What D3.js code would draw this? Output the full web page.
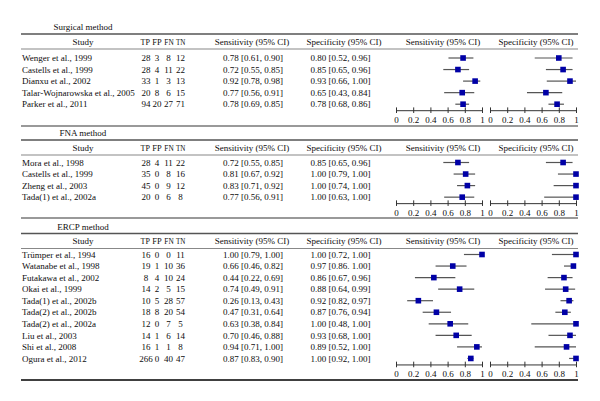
<!DOCTYPE html>
<html>
<head>
<meta charset="utf-8">
<script src="https://cdn.jsdelivr.net/npm/d3@7"></script>
<style>
  html, body { margin: 0; padding: 0; background: #fff; }
  svg { display: block; }
  text { font-family: "Liberation Serif", "DejaVu Serif", serif; font-size: 9px; fill: #0d0d0d; }
</style>
</head>
<body>
<svg id="chart" width="600" height="401"></svg>
<script>
// ---------------- DATA ----------------
const sectionTitles = ["Surgical method", "FNA method", "ERCP method"];

const surgStudies = ["Wenger et al., 1999", "Castells et al., 1999", "Dianxu et al., 2002",
  "Talar-Wojnarowska et al., 2005", "Parker et al., 2011"];
const surgCounts = [[28, 3, 8, 12], [28, 4, 11, 22], [33, 1, 3, 13], [20, 8, 6, 15], [94, 20, 27, 71]];
const surgSens = [[0.78, 0.61, 0.90], [0.72, 0.55, 0.85], [0.92, 0.78, 0.98], [0.77, 0.56, 0.91], [0.78, 0.69, 0.85]];
const surgSpec = [[0.80, 0.52, 0.96], [0.85, 0.65, 0.96], [0.93, 0.66, 1.00], [0.65, 0.43, 0.84], [0.78, 0.68, 0.86]];

const fnaStudies = ["Mora et al., 1998", "Castells et al., 1999", "Zheng et al., 2003", "Tada(1) et al., 2002a"];
const fnaCounts = [[28, 4, 11, 22], [35, 0, 8, 16], [45, 0, 9, 12], [20, 0, 6, 8]];
const fnaSens = [[0.72, 0.55, 0.85], [0.81, 0.67, 0.92], [0.83, 0.71, 0.92], [0.77, 0.56, 0.91]];
const fnaSpec = [[0.85, 0.65, 0.96], [1.00, 0.79, 1.00], [1.00, 0.74, 1.00], [1.00, 0.63, 1.00]];

const ercpStudies = ["Trümper et al., 1994", "Watanabe et al., 1998", "Futakawa et al., 2002", "Okai et al., 1999",
  "Tada(1) et al., 2002b", "Tada(2) et al., 2002b", "Tada(2) et al., 2002a", "Liu et al., 2003",
  "Shi et al., 2008", "Ogura et al., 2012"];
const ercpCounts = [[16, 0, 0, 11], [19, 1, 10, 36], [8, 4, 10, 24], [14, 2, 5, 15], [10, 5, 28, 57],
  [18, 8, 20, 54], [12, 0, 7, 5], [14, 1, 6, 14], [16, 1, 1, 8], [266, 0, 40, 47]];
const ercpSens = [[1.00, 0.79, 1.00], [0.66, 0.46, 0.82], [0.44, 0.22, 0.69], [0.74, 0.49, 0.91], [0.26, 0.13, 0.43],
  [0.47, 0.31, 0.64], [0.63, 0.38, 0.84], [0.70, 0.46, 0.88], [0.94, 0.71, 1.00], [0.87, 0.83, 0.90]];
const ercpSpec = [[1.00, 0.72, 1.00], [0.97, 0.86, 1.00], [0.86, 0.67, 0.96], [0.88, 0.64, 0.99], [0.92, 0.82, 0.97],
  [0.87, 0.76, 0.94], [1.00, 0.48, 1.00], [0.93, 0.68, 1.00], [0.89, 0.52, 1.00], [1.00, 0.92, 1.00]];
// CI text separators as printed in the source (one printed with a period)
const ercpSpecSep = [", ", ". ", ", ", ", ", ", ", ", ", ", ", ", ", ", ", ", "];

const countHeaders = ["TP", "FP", "FN", "TN"];
const axisTicks = [0, 0.2, 0.4, 0.6, 0.8, 1];

// ---------------- LAYOUT ----------------
const sections = [
  { title: sectionTitles[0], studies: surgStudies, counts: surgCounts, sens: surgSens, spec: surgSpec, top: 34, row0: 58, bottom: 126, last: false },
  { title: sectionTitles[1], studies: fnaStudies, counts: fnaCounts, sens: fnaSens, spec: fnaSpec, top: 140, row0: 162.5, bottom: 218, last: false },
  { title: sectionTitles[2], studies: ercpStudies, counts: ercpCounts, sens: ercpSens, spec: ercpSpec, specSep: ercpSpecSep, top: 233.5, row0: 254.5, bottom: 380, last: true }
];
const rowStep = 11.55;
const lineX0 = 21, lineX1 = 578;
const studyX = 22, studyHeadX = 83;
const countX = [146, 157, 168.5, 180.5];
const countHeadX = [145.3, 157, 169, 180.7];
const sensTextX = 253, sensHeadX = 252;
const specTextX = 340.5, specHeadX = 344;
const forestHeadX = [443, 536];
const sensScale = d3.scaleLinear().domain([0, 1]).range([396, 482]);
const specScale = d3.scaleLinear().domain([0, 1]).range([490, 576]);
const base = 3.2; // baseline offset from visual centre

const svg = d3.select("#chart");
const fmt = v => v.toFixed(2);
const tickFmt = d => (d === 0 || d === 1) ? String(d) : d.toFixed(1);

sections.forEach(sec => {
  const g = svg.append("g");
  const n = sec.studies.length;
  const rowY = d3.scaleLinear().domain([0, 1]).range([sec.row0, sec.row0 + rowStep]);
  const axisY = rowY(n - 1) + 6;

  // title
  g.append("text").attr("x", studyHeadX).attr("y", sec.top - 7 + base)
    .attr("text-anchor", "middle").attr("font-size", 9.5).text(sec.title);

  // rules
  g.append("line").attr("x1", lineX0).attr("x2", lineX1).attr("y1", sec.top).attr("y2", sec.top)
    .attr("stroke", "#555").attr("stroke-width", 1.3);
  g.append("line").attr("x1", lineX0).attr("x2", lineX1).attr("y1", sec.top + 15).attr("y2", sec.top + 15)
    .attr("stroke", "#888").attr("stroke-width", 1.2);
  g.append("line").attr("x1", lineX0).attr("x2", lineX1).attr("y1", sec.bottom).attr("y2", sec.bottom)
    .attr("stroke", sec.last ? "#000" : "#777").attr("stroke-width", 1.6);

  // header
  const hy = sec.top + 7.5 + base;
  g.append("text").attr("x", studyHeadX).attr("y", hy).attr("text-anchor", "middle").text("Study");
  countHeaders.forEach((h, i) => g.append("text").attr("x", countHeadX[i]).attr("y", hy)
    .attr("text-anchor", "middle").attr("font-size", 8.8)
    .attr("textLength", 9.4).attr("lengthAdjust", "spacingAndGlyphs").text(h));
  g.append("text").attr("x", sensHeadX).attr("y", hy).attr("text-anchor", "middle").text("Sensitivity (95% CI)");
  g.append("text").attr("x", specHeadX).attr("y", hy).attr("text-anchor", "middle").text("Specificity (95% CI)");
  g.append("text").attr("x", forestHeadX[0]).attr("y", hy).attr("text-anchor", "middle").text("Sensitivity (95% CI)");
  g.append("text").attr("x", forestHeadX[1]).attr("y", hy).attr("text-anchor", "middle").text("Specificity (95% CI)");

  // rows
  sec.studies.forEach((s, i) => {
    const y = rowY(i);
    g.append("text").attr("x", studyX).attr("y", y + base).text(s);
    sec.counts[i].forEach((c, j) => g.append("text").attr("x", countX[j]).attr("y", y + base).attr("text-anchor", "middle").text(c));
    const se = sec.sens[i], sp = sec.spec[i];
    const sep = sec.specSep ? sec.specSep[i] : ", ";
    g.append("text").attr("x", sensTextX).attr("y", y + base).attr("text-anchor", "middle")
      .text(`${fmt(se[0])} [${fmt(se[1])}, ${fmt(se[2])}]`);
    g.append("text").attr("x", specTextX).attr("y", y + base).attr("text-anchor", "middle")
      .text(`${fmt(sp[0])} [${fmt(sp[1])}${sep}${fmt(sp[2])}]`);
  });

  // forest plots
  [[sec.sens, sensScale], [sec.spec, specScale]].forEach(([vals, sc]) => {
    const fg = g.append("g");
    fg.selectAll("line.ci").data(vals).join("line").attr("class", "ci")
      .attr("x1", d => sc(d[1])).attr("x2", d => sc(d[2]))
      .attr("y1", (d, i) => rowY(i)).attr("y2", (d, i) => rowY(i))
      .attr("stroke", "#555").attr("stroke-width", 1.2);
    const sq = 5.6;
    fg.selectAll("rect.pt").data(vals).join("rect").attr("class", "pt")
      .attr("x", d => sc(d[0]) - sq / 2).attr("y", (d, i) => rowY(i) - sq / 2)
      .attr("width", sq).attr("height", sq).attr("fill", "#0000a6");

    const ax = fg.append("g").attr("transform", `translate(0,${axisY})`)
      .call(d3.axisBottom(sc).tickValues(axisTicks).tickFormat(tickFmt).tickSize(3).tickSizeOuter(0));
    ax.select(".domain").attr("stroke", "#333").attr("stroke-width", 1);
    ax.selectAll(".tick line").attr("y1", -2.8).attr("y2", 2.8).attr("stroke", "#333").attr("stroke-width", 1);
    ax.selectAll(".tick text").attr("y", 9.5).attr("dy", 0).attr("dominant-baseline", "auto")
      .attr("transform", "translate(0,3)")
      .style("font-family", "'Liberation Serif', 'DejaVu Serif', serif").style("font-size", "9px").attr("fill", "#0d0d0d");
  });
});
</script>
</body>
</html>
